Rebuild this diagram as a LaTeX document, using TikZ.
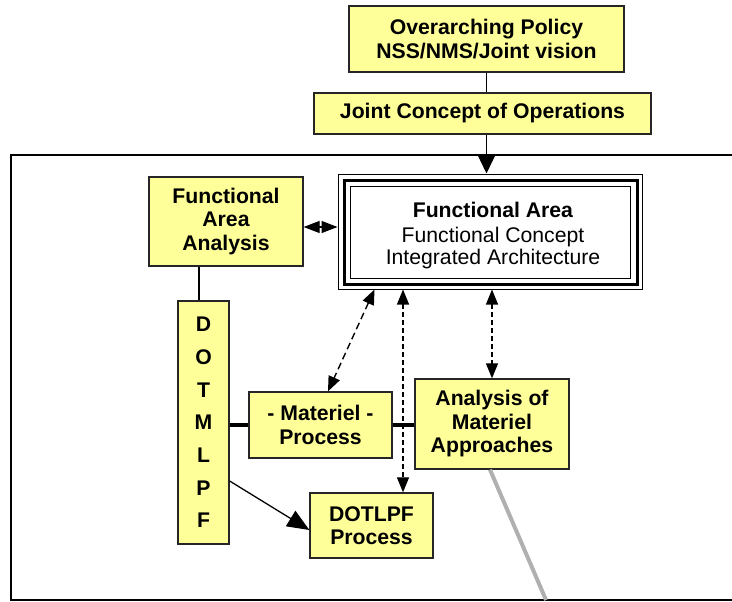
\documentclass[tikz,border=0pt]{standalone}
\usepackage{fontspec}
\setmainfont{Liberation Sans}
\usetikzlibrary{arrows.meta}
\definecolor{boxyellow}{HTML}{FFFF99}
\definecolor{edgegray}{HTML}{B0B0B0}
\tikzset{
  ybox/.style={draw=black!85, line width=1.3pt, fill=boxyellow, inner sep=0pt, align=center,
    font=\fontsize{21.2}{23.5}\selectfont\bfseries},
  dasharrow/.style={line width=1.4pt, dash pattern=on 7pt off 4pt,
    {Triangle[length=15pt,width=12pt]}-{Triangle[length=15pt,width=12pt]}},
  finedash/.style={line width=1.2pt, dash pattern=on 5pt off 3pt,
    {Triangle[length=15pt,width=12pt]}-{Triangle[length=15pt,width=12pt]}},
  thickjoin/.style={line width=4pt},
}
\begin{document}
\begin{tikzpicture}[x=1pt,y=-1pt]
\useasboundingbox (0,0) rectangle (732,602);
% frame
\draw[line width=2pt] (732,155) -- (11,155) -- (11,600) -- (732,600);

% nodes
\node[ybox, minimum width=275pt, minimum height=66pt, text depth=-2pt] (policy) at (486.5,39) {Overarching Policy\\NSS/NMS/Joint vision};
\node[ybox, minimum width=337pt, minimum height=41pt] (joint) at (482.5,113.5) {Joint Concept of Operations};
\node[draw, line width=1pt, fill=white, minimum width=304pt, minimum height=115pt, inner sep=0pt] (fa) at (490,231.5) {};
\draw[line width=3pt] ([shift={(6.5,7)}]fa.north west) rectangle ([shift={(-5.5,-5.5)}]fa.south east);
\draw[line width=1.5pt] ([shift={(13,13)}]fa.north west) rectangle ([shift={(-12,-11)}]fa.south east);
\node[align=center, inner sep=0pt, font=\fontsize{21.2}{22}\selectfont] (fatext) at (493,236)
      {\textbf{Functional Area}\\[3pt]Functional Concept\\Integrated Architecture};

\node[ybox, minimum width=154pt, minimum height=89pt] (faa) at (226,221.5) {Functional\\Area\\Analysis};
\node[ybox, minimum width=51pt, minimum height=243pt, font=\fontsize{21.2}{32.7}\selectfont\bfseries] (dot) at (203.5,422.5)
  {D\\O\\T\\M\\L\\P\\F};
\node[ybox, minimum width=143pt, minimum height=66pt] (mat) at (320.5,425) {- Materiel -\\Process};
\node[ybox, minimum width=154pt, minimum height=90pt] (ana) at (492,424) {Analysis of\\Materiel\\Approaches};
\node[ybox, minimum width=123pt, minimum height=65pt] (dotlpf) at (371.5,525.5) {DOTLPF\\Process};

% coordinates
\coordinate (grayend) at (546,600);

% connectors
\draw[line width=1.3pt] (policy.south) -- (policy.south |- joint.north);
\draw[line width=1.3pt, -{Triangle[length=19pt,width=18pt]}] (policy.south |- joint.south) -- (policy.south |- fa.north);
\draw[line width=1.3pt, {Triangle[length=16pt,width=12pt]}-{Triangle[length=16pt,width=12pt]}]
  ([yshift=-5.5pt]faa.east) -- ([yshift=-5.5pt]faa.east -| fa.west);
\draw[line width=1.3pt] ([xshift=-4.5pt]dot.north |- faa.south) -- ([xshift=-4.5pt]dot.north);
\draw[thickjoin] (dot.east |- mat.west) -- (mat.west);
\draw[thickjoin] (mat.east) -- (mat.east -| ana.west);
\draw[line width=1.3pt, -{Triangle[length=22pt,width=18pt]}] ([yshift=-58.5pt]dot.east) -- ([yshift=-4.5pt]dotlpf.west);
\draw[dasharrow] ([xshift=37pt]fa.south west) -- ([xshift=7.5pt]mat.north);
\draw[finedash] ([xshift=31.5pt]dotlpf.north |- fa.south) -- ([xshift=31.5pt]dotlpf.north);
\draw[finedash] (ana.north |- fa.south) -- (ana.north);
\draw[edgegray, line width=4pt] ([xshift=-2pt]ana.south) -- (grayend);
\end{tikzpicture}
\end{document}
